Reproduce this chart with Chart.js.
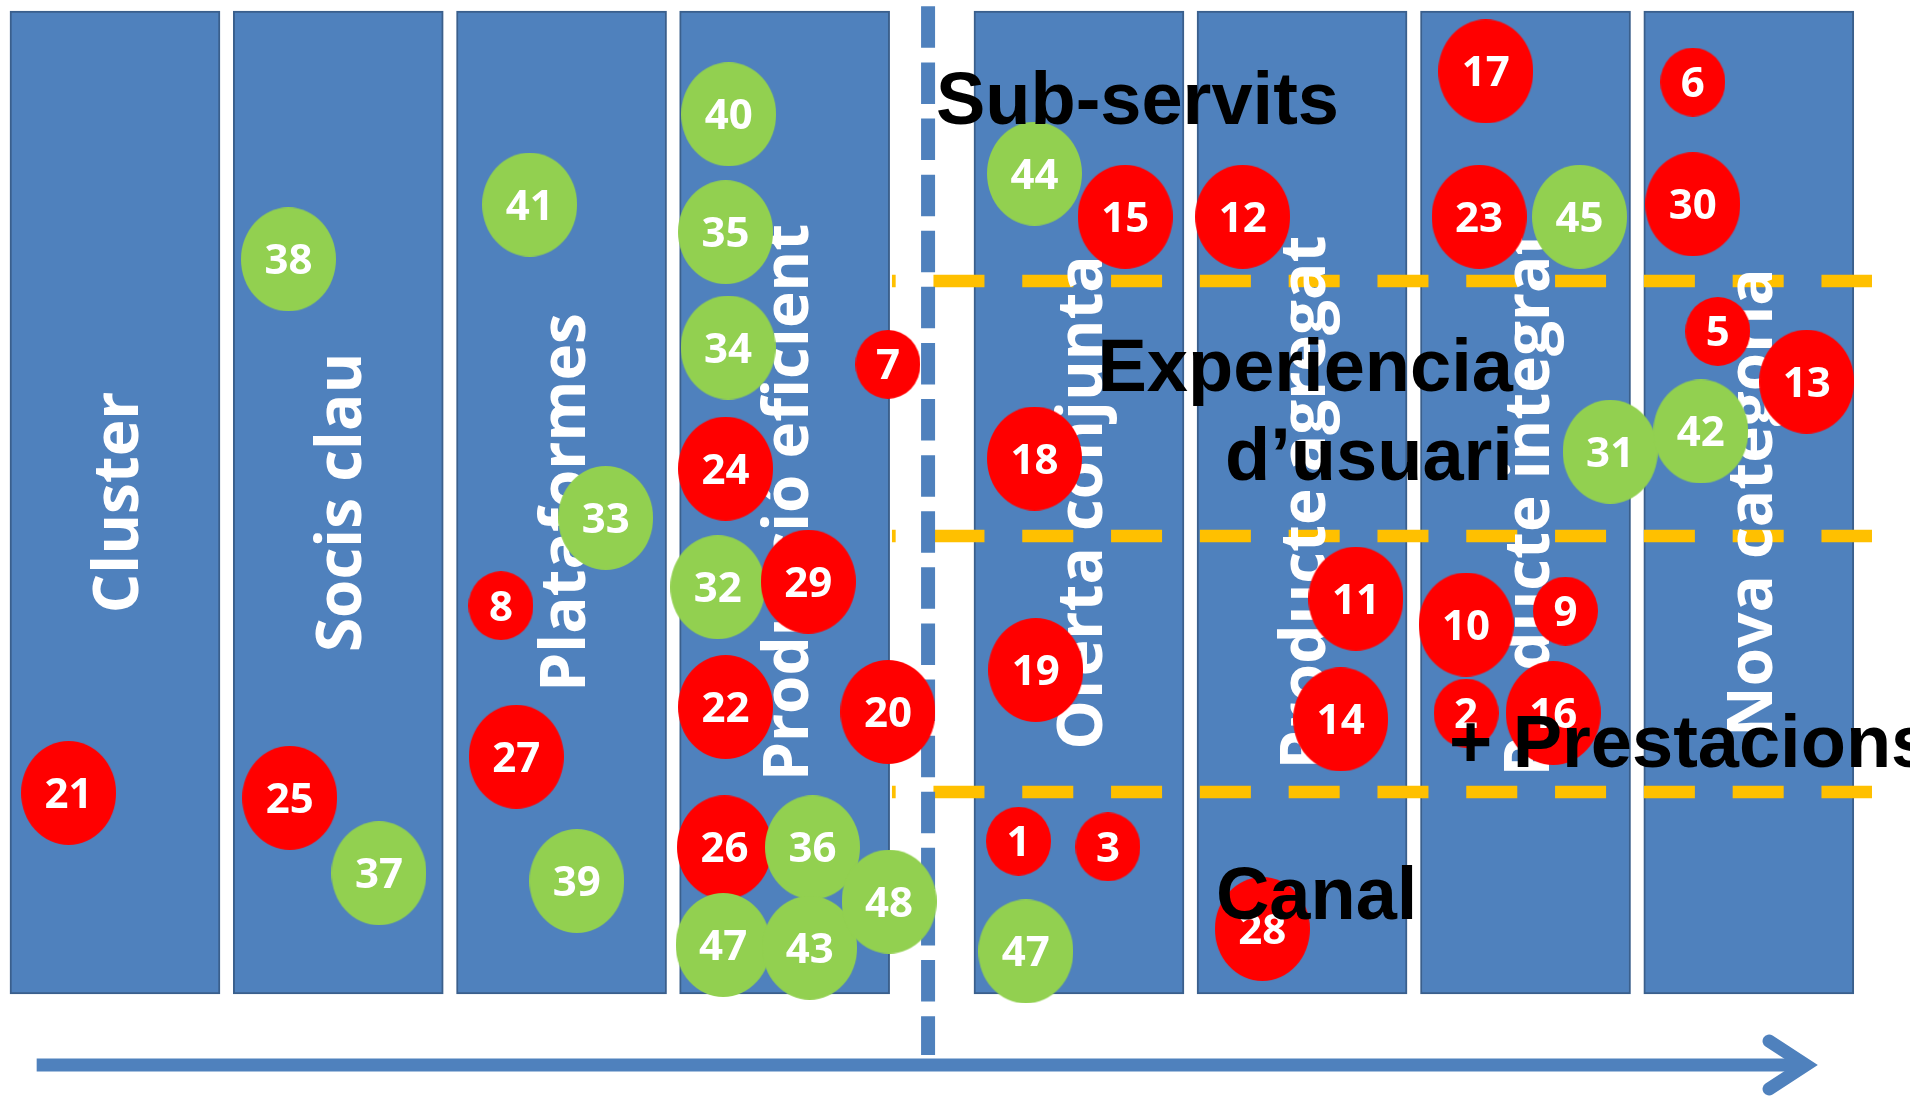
<!DOCTYPE html>
<html>
<head>
<meta charset="utf-8">
<title>Sub-servits</title>
<script src="https://cdn.jsdelivr.net/npm/chart.js@4.4.1/dist/chart.umd.min.js"></script>
<style>
    body { margin: 0; background: #ffffff; }
    canvas { display: block; }
</style>
</head>
<body>
<canvas id="chart" width="1910" height="1097"></canvas>
<script>
// every position is in % of the picture, y counted from the top

// columns (stages)
const stages = ['Cluster', 'Socis clau', 'Plataformes', 'Producció eficient',
                'Oferta conjunta', 'Producte agregat', 'Producte integrat', 'Nova categoria'];
const stageX = [6.02, 17.71, 29.40, 41.08, 56.49, 68.17, 79.87, 91.56];
const stageSpan = [1.0, 90.6];

// horizontal bands
const bandEdges = [25.62, 48.86, 72.20];
const bandNames = ['Sub-servits', 'Experiencia', 'd’usuari', '+ Prestacions', 'Canal'];

// numbered dots, listed in drawing order (later ones on top)
const ids   = [21, 25, 37, 38, 41, 8, 27, 33, 39, 40, 35, 34, 24, 32, 29, 22, 20, 7, 26, 36,
               47, 43, 48, 44, 15, 12, 17, 23, 45, 6, 30, 5, 31, 42, 13, 18, 11, 14, 10, 9,
               2, 16, 19, 1, 3, 47, 28];
const dotX  = [3.59, 15.17, 19.84, 15.10, 27.73, 26.23, 27.03, 31.71, 30.20, 38.15,
               37.99, 38.12, 37.99, 37.58, 42.32, 37.99, 46.49, 46.49, 37.93, 42.54,
               37.86, 42.39, 46.55, 54.16, 58.91, 65.06, 77.79, 77.44, 82.70, 88.63,
               88.63, 89.94, 84.30, 89.05, 94.59, 54.16, 70.99, 70.19, 76.76, 81.96,
               76.76, 81.32, 54.23, 53.33, 58.01, 53.71, 66.09];
const dotY  = [72.28, 72.73, 79.60, 23.64, 18.65, 55.21, 68.98, 47.21, 80.31, 10.42,
               21.16, 31.68, 42.72, 53.53, 53.02, 64.45, 64.90, 33.21, 77.24, 77.24,
               86.14, 86.40, 82.19, 15.83, 19.76, 19.76, 6.51, 19.76, 19.76, 7.48,
               18.62, 30.21, 41.18, 39.33, 34.79, 41.80, 54.57, 65.58, 56.93, 55.70,
               65.00, 65.00, 61.08, 76.68, 77.20, 86.73, 84.69];
const dotKind = ['r', 'r', 'g', 'g', 'g', 'r', 'r', 'g', 'g', 'g', 'g', 'g', 'r', 'g', 'r',
                 'r', 'r', 'r', 'r', 'g', 'g', 'g', 'g', 'g', 'r', 'r', 'r', 'r', 'g', 'r',
                 'r', 'r', 'g', 'g', 'r', 'r', 'r', 'r', 'r', 'r', 'r', 'r', 'r', 'r', 'r',
                 'g', 'r'];
const smallIds = [1, 2, 3, 5, 6, 7, 8, 9];

const BLUE = '#4F81BD';
const RED = '#FF0000';
const GREEN = '#92D050';
const ORANGE = '#FFC000';

function ellipseSprite(color, w, h){
    const c = document.createElement('canvas');
    c.width = w;
    c.height = h;
    const g = c.getContext('2d');
    g.fillStyle = color;
    g.beginPath();
    g.ellipse(w / 2, h / 2, w / 2, h / 2, 0, 0, Math.PI * 2);
    g.fill();
    return c;
}

const sprites = {
    r: ellipseSprite(RED, 95, 104),
    g: ellipseSprite(GREEN, 95, 104),
    rs: ellipseSprite(RED, 65, 69),
    gs: ellipseSprite(GREEN, 65, 69)
};

function isSmall(i){
    return smallIds.includes(ids[i]);
}

const diagramText = {
    id: 'diagramText',
    beforeDatasetDraw(chart, args){
        if (args.index !== 0) return;
        const ctx = chart.ctx;
        const x = chart.scales.x, y = chart.scales.y;
        const midY = y.getPixelForValue((stageSpan[0] + stageSpan[1]) / 2);
        ctx.save();
        ctx.fillStyle = '#ffffff';
        ctx.font = 'bold 62px "Open Sans"';
        ctx.textAlign = 'center';
        ctx.textBaseline = 'alphabetic';
        stages.forEach((name, i) => {
            ctx.save();
            ctx.translate(x.getPixelForValue(stageX[i]), midY);
            ctx.rotate(-Math.PI / 2);
            ctx.fillText(name, 0, 23);
            ctx.restore();
        });
        ctx.restore();
    },
    afterDatasetDraw(chart, args){
        if (args.index !== 0) return;
        const ctx = chart.ctx;
        ctx.save();
        ctx.fillStyle = '#ffffff';
        ctx.font = 'bold 42px "Open Sans"';
        ctx.textAlign = 'center';
        ctx.textBaseline = 'alphabetic';
        args.meta.data.forEach((pt, i) => {
            ctx.fillText(String(ids[i]), pt.x, pt.y + 15);
        });
        ctx.restore();
    },
    afterDatasetsDraw(chart){
        const ctx = chart.ctx;
        const x = chart.scales.x, y = chart.scales.y;
        const px = v => x.getPixelForValue(v);
        const py = v => y.getPixelForValue(v);
        ctx.save();
        ctx.fillStyle = '#000000';
        ctx.font = 'bold 74px "Liberation Sans", Arial, sans-serif';
        ctx.textBaseline = 'alphabetic';
        ctx.textAlign = 'left';
        ctx.fillText(bandNames[0], px(49.0), py(11.3));
        ctx.fillText(bandNames[3], px(75.86), py(69.92));
        ctx.fillText(bandNames[4], px(63.66), py(83.81));
        ctx.textAlign = 'right';
        ctx.fillText(bandNames[1], px(79.21), py(35.64));
        ctx.fillText(bandNames[2], px(79.21), py(43.76));
        ctx.restore();
    }
};

const datasets = [];

// dots
datasets.push({
    type: 'bubble',
    order: 0,
    data: ids.map((id, i) => ({x: dotX[i], y: dotY[i]})),
    pointStyle: c => sprites[dotKind[c.dataIndex] + (isSmall(c.dataIndex) ? 's' : '')],
    radius: c => isSmall(c.dataIndex) ? 33 : 50,
    backgroundColor: c => dotKind[c.dataIndex] == 'r' ? RED : GREEN,
    borderWidth: 0
});

// vertical divider
datasets.push({
    type: 'line',
    order: 2,
    data: [{x: 48.59, y: 0.58}, {x: 48.59, y: 96.17}],
    borderColor: BLUE,
    borderWidth: 14,
    borderDash: [41.5, 14.6],
    borderCapStyle: 'butt',
    pointRadius: 0,
    fill: false
});

// arrow
datasets.push({
    type: 'line',
    order: 2,
    data: [{x: 1.92, y: 97.08}, {x: 94.55, y: 97.08}],
    borderColor: BLUE,
    borderWidth: 13,
    borderCapStyle: 'butt',
    pointRadius: 0,
    fill: false
});
datasets.push({
    type: 'line',
    order: 2,
    data: [{x: 92.62, y: 94.90}, {x: 94.55, y: 97.08}, {x: 92.62, y: 99.27}],
    borderColor: BLUE,
    borderWidth: 13,
    borderCapStyle: 'round',
    borderJoinStyle: 'miter',
    pointRadius: 0,
    fill: false
});

// band borders
bandEdges.forEach(edge => {
    datasets.push({
        type: 'line',
        order: 4,
        data: [{x: 46.70, y: edge}, {x: 98.01, y: edge}],
        borderColor: ORANGE,
        borderWidth: 12.5,
        borderDash: [51, 37.8],
        borderDashOffset: 47.3,
        borderCapStyle: 'butt',
        pointRadius: 0,
        fill: false
    });
});

// columns
datasets.push({
    type: 'bar',
    order: 6,
    data: stageX.map(v => ({x: v, y: stageSpan})),
    backgroundColor: BLUE,
    borderColor: '#3A5F8C',
    borderWidth: 2,
    borderSkipped: false,
    barThickness: 210
});

new Chart(document.getElementById('chart'), {
    type: 'bubble',
    data: { datasets: datasets },
    options: {
        responsive: false,
        animation: false,
        events: [],
        layout: { padding: 0, autoPadding: false },
        plugins: {
            legend: { display: false },
            tooltip: { enabled: false }
        },
        scales: {
            x: { type: 'linear', min: 0, max: 100, offset: false, display: false },
            y: { type: 'linear', min: 0, max: 100, reverse: true, display: false }
        }
    },
    plugins: [diagramText]
});
</script>
</body>
</html>
